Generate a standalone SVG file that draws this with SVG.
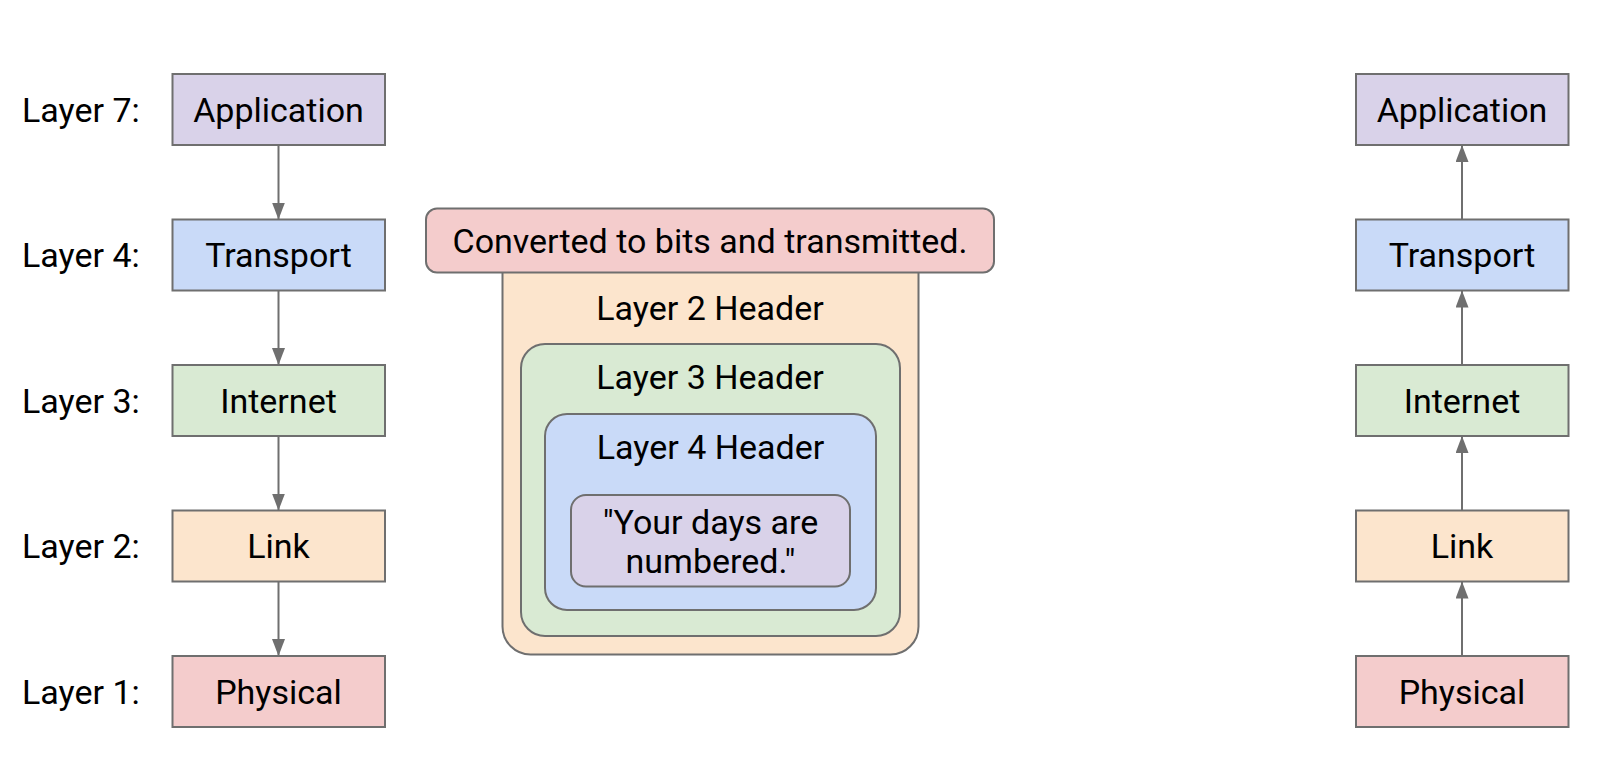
<svg xmlns="http://www.w3.org/2000/svg" width="1606" height="761" viewBox="0 0 1606 761">
<style>
text{font-family:Roboto,"Liberation Sans",sans-serif;font-size:34px;fill:#000;}
.c{text-anchor:middle;}
.box{stroke:#6f6f6f;stroke-width:2;}
.app{fill:#d9d2e9;}.tra{fill:#c9daf8;}.int{fill:#d9ead3;}.lnk{fill:#fce5cd;}.phy{fill:#f4cccc;}
.conn{stroke:#6f6f6f;stroke-width:2;fill:none;}
</style>
<defs>
<marker id="ah" markerUnits="userSpaceOnUse" markerWidth="18" markerHeight="14" refX="17" refY="6.5" orient="auto">
<path d="M0,0 L17,6.5 L0,13 Z" fill="#6f6f6f"/>
</marker>
</defs>
<g id="labels">
<text x="22" y="121.5">Layer 7:</text>
<text x="22" y="267">Layer 4:</text>
<text x="22" y="412.5">Layer 3:</text>
<text x="22" y="558">Layer 2:</text>
<text x="22" y="703.5">Layer 1:</text>
</g>
<g id="left-application"><rect class="box app" x="172.5" y="74" width="212.5" height="71"/><text class="c" x="278.5" y="121.5">Application</text></g>
<g id="left-transport"><rect class="box tra" x="172.5" y="219.5" width="212.5" height="71"/><text class="c" x="278.5" y="267">Transport</text></g>
<g id="left-internet"><rect class="box int" x="172.5" y="365" width="212.5" height="71"/><text class="c" x="278.5" y="412.5">Internet</text></g>
<g id="left-link"><rect class="box lnk" x="172.5" y="510.5" width="212.5" height="71"/><text class="c" x="278.5" y="558">Link</text></g>
<g id="left-physical"><rect class="box phy" x="172.5" y="656" width="212.5" height="71"/><text class="c" x="278.5" y="703.5">Physical</text></g>
<g id="right-application"><rect class="box app" x="1356" y="74" width="212.5" height="71"/><text class="c" x="1462" y="121.5">Application</text></g>
<g id="right-transport"><rect class="box tra" x="1356" y="219.5" width="212.5" height="71"/><text class="c" x="1462" y="267">Transport</text></g>
<g id="right-internet"><rect class="box int" x="1356" y="365" width="212.5" height="71"/><text class="c" x="1462" y="412.5">Internet</text></g>
<g id="right-link"><rect class="box lnk" x="1356" y="510.5" width="212.5" height="71"/><text class="c" x="1462" y="558">Link</text></g>
<g id="right-physical"><rect class="box phy" x="1356" y="656" width="212.5" height="71"/><text class="c" x="1462" y="703.5">Physical</text></g>
<g id="layer2-header"><rect class="box lnk" x="502.5" y="240" width="416" height="414.5" rx="28"/><text class="c" x="710" y="319.5">Layer 2 Header</text></g>
<g id="layer3-header"><rect class="box int" x="521" y="344" width="379" height="292" rx="24"/><text class="c" x="710" y="388.5">Layer 3 Header</text></g>
<g id="layer4-header"><rect class="box tra" x="545" y="414" width="331" height="196" rx="22"/><text class="c" x="710.5" y="458.5">Layer 4 Header</text></g>
<g id="payload"><rect class="box app" x="571" y="495" width="279" height="91.5" rx="15"/><text class="c" x="710.5" y="533.5">"Your days are</text><text class="c" x="710.5" y="572.5">numbered."</text></g>
<g id="transmitted"><rect class="box phy" x="426" y="208.5" width="568" height="64" rx="11"/><text class="c" x="710" y="252.5">Converted to bits and transmitted.</text></g>
<g id="connectors">
<line class="conn" x1="278.5" y1="145" x2="278.5" y2="219.5" marker-end="url(#ah)"/>
<line class="conn" x1="278.5" y1="290.5" x2="278.5" y2="365" marker-end="url(#ah)"/>
<line class="conn" x1="278.5" y1="436" x2="278.5" y2="510.5" marker-end="url(#ah)"/>
<line class="conn" x1="278.5" y1="581.5" x2="278.5" y2="656" marker-end="url(#ah)"/>
<line class="conn" x1="1462" y1="656" x2="1462" y2="581.5" marker-end="url(#ah)"/>
<line class="conn" x1="1462" y1="510.5" x2="1462" y2="436" marker-end="url(#ah)"/>
<line class="conn" x1="1462" y1="365" x2="1462" y2="290.5" marker-end="url(#ah)"/>
<line class="conn" x1="1462" y1="219.5" x2="1462" y2="145" marker-end="url(#ah)"/>
</g>
</svg>
